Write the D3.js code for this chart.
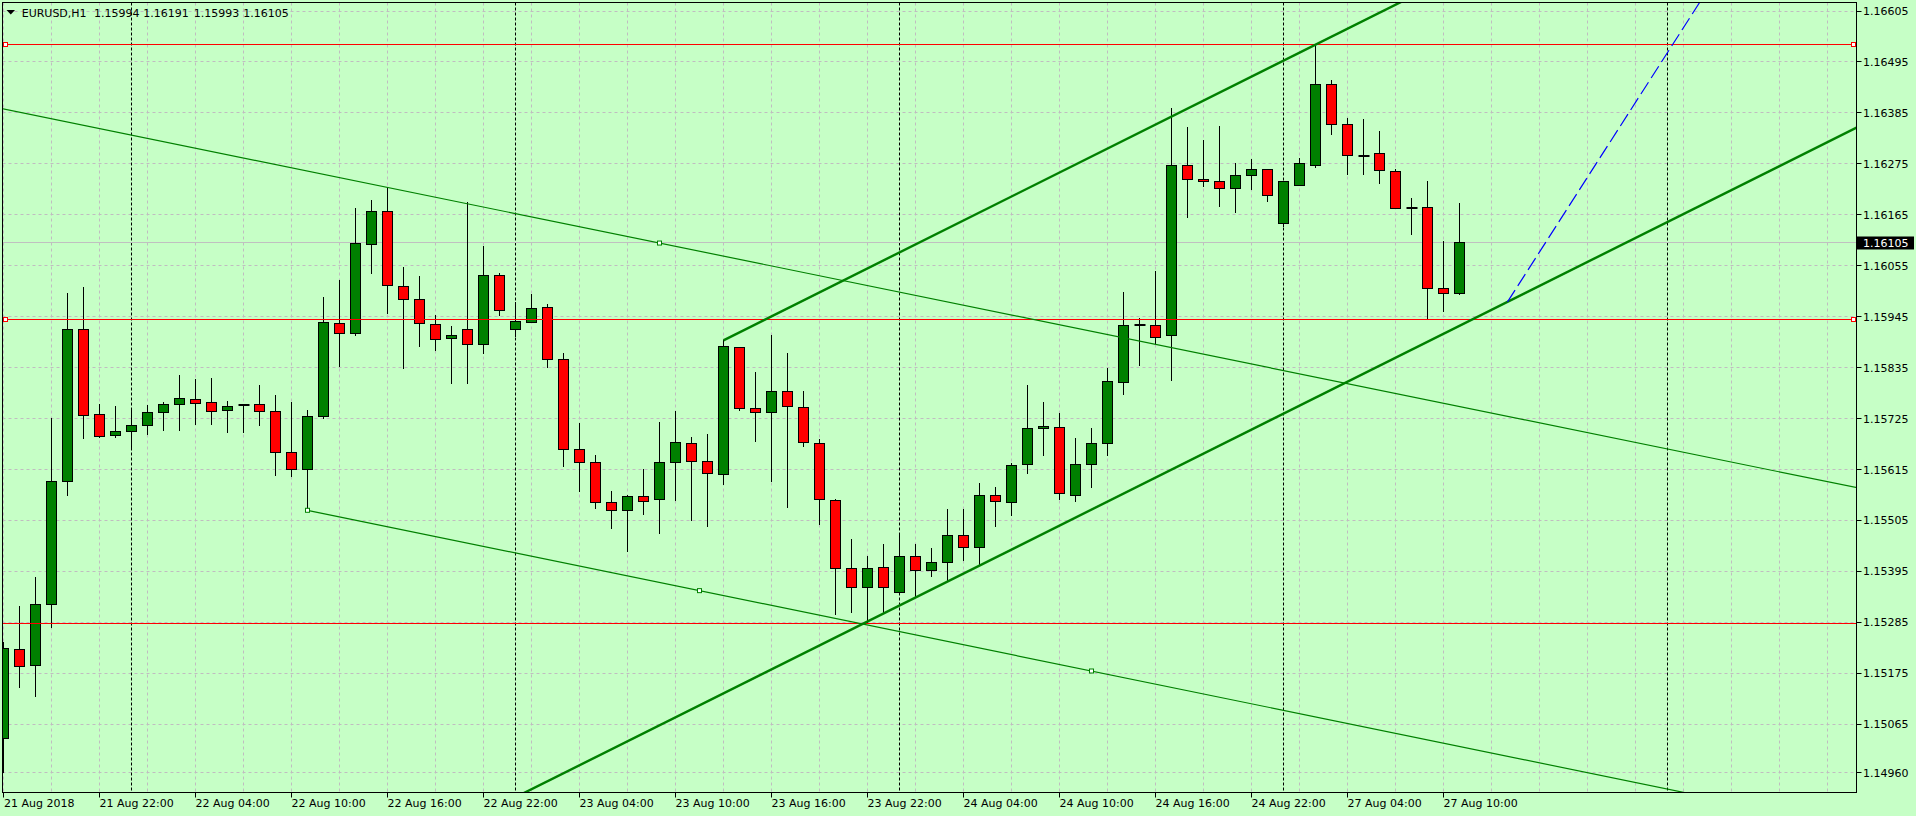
<!DOCTYPE html>
<html><head><meta charset="utf-8">
<script src="https://cdn.jsdelivr.net/npm/d3@7"></script>
<style>html,body{margin:0;padding:0;background:#C6FFC6;overflow:hidden}</style>
</head><body>
<svg id="chart" width="1916" height="816"></svg>
<script>
// ---- data (EURUSD H1, bar 0 = 21 Aug 16:00) ----
const opens  = [1.15035,1.15227,1.15192,1.15324,1.15590,1.15918,1.15734,1.15689,1.15698,1.15711,1.15739,1.15756,1.15767,1.15760,1.15743,1.15754,1.15756,1.15741,1.15652,1.15616,1.15730,1.15931,1.15909,1.16101,1.16173,1.16011,1.15983,1.15929,1.15898,1.15918,1.15885,1.16034,1.15918,1.15933,1.15965,1.15853,1.15659,1.15631,1.15544,1.15527,1.15557,1.15551,1.15631,1.15672,1.15633,1.15605,1.15879,1.15747,1.15739,1.15784,1.15749,1.15672,1.15549,1.15402,1.15361,1.15404,1.15350,1.15428,1.15398,1.15415,1.15473,1.15447,1.15559,1.15544,1.15626,1.15704,1.15706,1.15559,1.15626,1.15672,1.15803,1.15926,1.15926,1.15904,1.16272,1.16242,1.16237,1.16222,1.16250,1.16263,1.16147,1.16229,1.16272,1.16447,1.16360,1.16293,1.16298,1.16259,1.16180,1.16181,1.16006,1.15994];
const highs  = [1.15243,1.15320,1.15383,1.15726,1.15996,1.16009,1.15757,1.15752,1.15744,1.15754,1.15761,1.15819,1.15811,1.15813,1.15763,1.15755,1.15798,1.15776,1.15761,1.15744,1.15988,1.16024,1.16180,1.16197,1.16223,1.16052,1.16033,1.15948,1.15924,1.16192,1.16097,1.16039,1.15976,1.15993,1.15972,1.15866,1.15715,1.15646,1.15568,1.15559,1.15616,1.15717,1.15741,1.15685,1.15691,1.15894,1.15880,1.15826,1.15906,1.15866,1.15784,1.15680,1.15552,1.15464,1.15428,1.15454,1.15473,1.15454,1.15445,1.15529,1.15529,1.15585,1.15577,1.15629,1.15797,1.15760,1.15736,1.15683,1.15704,1.15834,1.15998,1.15942,1.16044,1.16396,1.16354,1.16327,1.16357,1.16276,1.16285,1.16264,1.16238,1.16287,1.16533,1.16456,1.16374,1.16371,1.16345,1.16263,1.16201,1.16239,1.16108,1.16191];
const lows   = [1.14962,1.15146,1.15125,1.15274,1.15561,1.15682,1.15685,1.15686,1.15660,1.15692,1.15701,1.15701,1.15714,1.15714,1.15697,1.15695,1.15712,1.15604,1.15600,1.15527,1.15727,1.15839,1.15906,1.16040,1.15952,1.15835,1.15882,1.15874,1.15801,1.15801,1.15866,1.15948,1.15903,1.15933,1.15837,1.15623,1.15569,1.15531,1.15489,1.15440,1.15518,1.15477,1.15550,1.15505,1.15492,1.15583,1.15743,1.15677,1.15591,1.15535,1.15665,1.15498,1.15303,1.15307,1.15284,1.15307,1.15350,1.15341,1.15385,1.15376,1.15419,1.15410,1.15492,1.15516,1.15607,1.15646,1.15551,1.15546,1.15577,1.15646,1.15779,1.15841,1.15888,1.15808,1.16160,1.16228,1.16185,1.16172,1.16221,1.16195,1.16141,1.16229,1.16269,1.16340,1.16254,1.16252,1.16234,1.16179,1.16124,1.15939,1.15958,1.15993];
const closes = [1.15229,1.15189,1.15324,1.15590,1.15918,1.15732,1.15687,1.15698,1.15711,1.15739,1.15756,1.15769,1.15758,1.15741,1.15752,1.15754,1.15741,1.15652,1.15616,1.15730,1.15933,1.15909,1.16104,1.16173,1.16013,1.15983,1.15931,1.15896,1.15905,1.15885,1.16034,1.15959,1.15935,1.15963,1.15853,1.15659,1.15631,1.15544,1.15527,1.15557,1.15546,1.15631,1.15674,1.15633,1.15607,1.15881,1.15747,1.15739,1.15784,1.15752,1.15674,1.15551,1.15402,1.15361,1.15402,1.15361,1.15428,1.15398,1.15415,1.15473,1.15447,1.15559,1.15546,1.15624,1.15704,1.15708,1.15564,1.15626,1.15672,1.15806,1.15926,1.15926,1.15901,1.16272,1.16242,1.16237,1.16222,1.16250,1.16263,1.16206,1.16237,1.16276,1.16447,1.16360,1.16293,1.16293,1.16261,1.16179,1.16180,1.16006,1.15996,1.16105];

const timeLabels = ["21 Aug 2018","21 Aug 22:00","22 Aug 04:00","22 Aug 10:00","22 Aug 16:00","22 Aug 22:00","23 Aug 04:00","23 Aug 10:00","23 Aug 16:00","23 Aug 22:00","24 Aug 04:00","24 Aug 10:00","24 Aug 16:00","24 Aug 22:00","27 Aug 04:00","27 Aug 10:00"];
const labelStep = 6;            // bars between time labels
const priceTicks = [1.16605,1.16495,1.16385,1.16275,1.16165,1.16055,1.15945,1.15835,1.15725,1.15615,1.15505,1.15395,1.15285,1.15175,1.15065,1.14960];
const daySeparators = [8,32,56,80,104];   // bar index of 00:00
const redLevels = [1.16533,1.15939,1.15283];
const redMarked = [true,true,false];
const bidPrice = 1.16105;
const header = ["EURUSD,H1","1.15994","1.16191","1.15993","1.16105"];

// trendline anchors [barIndex, price]
const thinUpper  = [[24,1.16224],[41,1.16104]];
const thinLower  = [[19,1.15527],[68,1.15180]];
const thickLower = [[54,1.15287],[94,1.15977]];
const thickUpper = [[45,1.15894],[85,1.16584]];
const blueLine   = [[94,1.15977],[106,1.16623]];
const thinMarkers = [[19,1.15527],[43.5,1.153535],[68,1.15180],[41,1.16104]];

// ---- drawing ----
const svg = d3.select("#chart");
const L=2.5, R=1856.5, T=2.5, B=792.5;
const x = d3.scaleLinear().domain([0,115]).range([3.5,3.5+16*115]);
const y = d3.scaleLinear().domain([1.14960,1.16605]).range([772.9,11]);
const py = v => Math.floor(y(v))+0.5;
const FONT = "DejaVu Sans, Verdana, sans-serif";

svg.append("rect").attr("width",1916).attr("height",816).attr("fill","#C6FFC6");
svg.append("defs").append("clipPath").attr("id","clip")
  .append("rect").attr("x",L).attr("y",T).attr("width",R-L).attr("height",B-T);
const plot = svg.append("g").attr("clip-path","url(#clip)");

// grid
const gridColor="#C0BCC0";
plot.selectAll(".hg").data(priceTicks).enter().append("line")
  .attr("x1",L).attr("x2",R).attr("y1",d=>py(d)).attr("y2",d=>py(d))
  .attr("stroke",gridColor).attr("stroke-dasharray","3,3");
const vIdx = d3.range(0,116,3);
plot.selectAll(".vg").data(vIdx).enter().append("line")
  .attr("x1",d=>x(d)).attr("x2",d=>x(d)).attr("y1",T).attr("y2",B)
  .attr("stroke",gridColor).attr("stroke-dasharray","3,3");

// day separators
plot.selectAll(".sep").data(daySeparators).enter().append("line")
  .attr("x1",d=>x(d)).attr("x2",d=>x(d)).attr("y1",T).attr("y2",B)
  .attr("stroke","#000").attr("stroke-dasharray","3,2");

// bid line
plot.append("line").attr("x1",L).attr("x2",R).attr("y1",py(bidPrice)).attr("y2",py(bidPrice))
  .attr("stroke","#C0C0C0");

// candles
const bars = d3.range(opens.length).map(i=>({i,o:opens[i],h:highs[i],l:lows[i],c:closes[i]}));
const cg = plot.append("g");
cg.selectAll(".wick").data(bars).enter().append("line")
  .attr("x1",d=>x(d.i)).attr("x2",d=>x(d.i))
  .attr("y1",d=>Math.round(y(d.h))).attr("y2",d=>Math.round(y(d.l))+1)
  .attr("stroke","#000");
cg.selectAll(".body").data(bars.filter(d=>d.o!==d.c)).enter().append("rect")
  .attr("x",d=>x(d.i)-5).attr("width",10)
  .attr("y",d=>py(Math.max(d.o,d.c)))
  .attr("height",d=>Math.max(1,py(Math.min(d.o,d.c))-py(Math.max(d.o,d.c))))
  .attr("fill",d=>d.c>d.o?"#008000":"#FF0000").attr("stroke","#000");
cg.selectAll(".doji").data(bars.filter(d=>d.o===d.c)).enter().append("line")
  .attr("x1",d=>x(d.i)-5).attr("x2",d=>x(d.i)+6)
  .attr("y1",d=>Math.round(y(d.o))).attr("y2",d=>Math.round(y(d.o)))
  .attr("stroke","#000").attr("stroke-width",2);

// horizontal red levels
plot.selectAll(".red").data(redLevels).enter().append("line")
  .attr("x1",L).attr("x2",R).attr("y1",d=>py(d)).attr("y2",d=>py(d)).attr("stroke","#FF0000");

// trendlines
function extLine(a, fromStart, color, width, dash){
  const s=(a[1][1]-a[0][1])/(a[1][0]-a[0][0]);
  const i0 = fromStart ? a[0][0] : -5, i1 = 130;
  const p0 = a[0][1]+s*(i0-a[0][0]), p1 = a[0][1]+s*(i1-a[0][0]);
  const ln = plot.append("line").attr("x1",x(i0)).attr("y1",y(p0)).attr("x2",x(i1)).attr("y2",y(p1))
    .attr("stroke",color).attr("stroke-width",width);
  if(dash) ln.attr("stroke-dasharray",dash);
}
extLine(thinUpper,false,"#008000",1.2);
extLine(thinLower,true,"#008000",1.2);
extLine(thickLower,false,"#008000",2.4);
extLine(thickUpper,true,"#008000",2.4);
extLine(blueLine,true,"#0000FF",1.2,"14,5");

// markers
svg.selectAll(".tm").data(thinMarkers).enter().append("rect")
  .attr("x",d=>x(d[0])-2).attr("y",d=>y(d[1])-2).attr("width",4).attr("height",4)
  .attr("fill","#fff").attr("stroke","#008000");
redLevels.forEach((v,k)=>{ if(!redMarked[k]) return;
  [5.5,1853.5].forEach(px=>svg.append("rect").attr("x",px-2).attr("y",py(v)-2).attr("width",4).attr("height",4)
    .attr("fill","#fff").attr("stroke","#FF0000"));
});

// frame
svg.append("rect").attr("x",L).attr("y",T).attr("width",R-L).attr("height",B-T)
  .attr("fill","none").attr("stroke","#000");

// price axis
const pa = svg.append("g");
pa.selectAll(".pt").data(priceTicks).enter().append("line")
  .attr("x1",R).attr("x2",R+5).attr("y1",d=>py(d)).attr("y2",d=>py(d)).attr("stroke","#000");
pa.selectAll(".pl").data(priceTicks).enter().append("text")
  .attr("x",1863).attr("y",d=>y(d)+4).text(d=>d.toFixed(5))
  .attr("font-family",FONT).attr("font-size","11px").attr("fill","#000");
pa.append("rect").attr("x",1857).attr("y",Math.round(y(bidPrice))-6.5).attr("width",57).attr("height",13).attr("fill","#000");
pa.append("text").attr("x",1863).attr("y",y(bidPrice)+4).text(bidPrice.toFixed(5))
  .attr("font-family",FONT).attr("font-size","11px").attr("fill","#fff");

// time axis
const ta = svg.append("g");
ta.selectAll(".tt").data(timeLabels).enter().append("line")
  .attr("x1",(d,k)=>x(k*labelStep)).attr("x2",(d,k)=>x(k*labelStep)).attr("y1",B).attr("y2",B+5).attr("stroke","#000");
ta.selectAll(".tl").data(timeLabels).enter().append("text")
  .attr("x",(d,k)=>Math.max(4,x(k*labelStep))).attr("y",807).text(d=>d)
  .attr("font-family",FONT).attr("font-size","11px").attr("fill","#000");

// header
svg.append("path").attr("d","M6.5,10 L15,10 L10.75,14.5 Z").attr("fill","#000");
const hx=[21.7,94,143.3,193.7,243.3];
svg.selectAll(".hd").data(header).enter().append("text")
  .attr("x",(d,k)=>hx[k]).attr("y",16.5).text(d=>d)
  .attr("font-family",FONT).attr("font-size","11px").attr("fill","#000");
</script>
</body></html>
